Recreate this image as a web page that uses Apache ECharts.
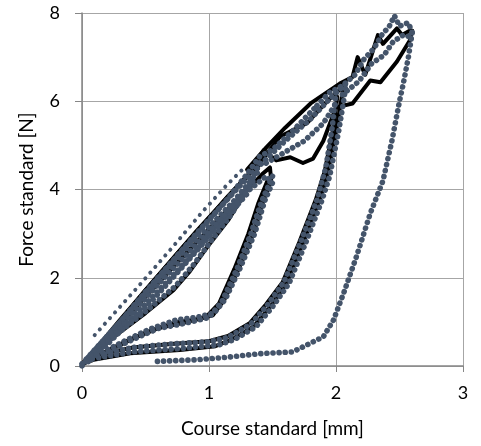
<!DOCTYPE html>
<html>
<head>
<meta charset="utf-8">
<script src="https://cdn.jsdelivr.net/npm/echarts@6/dist/echarts.min.js"></script>
<style>
html,body{margin:0;padding:0;background:#fff;}
#chart{width:481px;height:446px;}
</style>
</head>
<body>
<div id="chart"></div>
<script>
// Axis ticks
const xTicks = [0, 1, 2, 3];
const yTicks = [0, 2, 4, 6, 8];

// Black (solid line) measurement paths [course mm, force N]
const blackLoadLower = [[0,0],[0.25,0.85],[0.5,1.72],[0.75,2.55],[1.0,3.35],[1.15,3.85],[1.3,4.3],[1.43,4.88],[1.53,4.66],[1.64,4.73],[1.74,4.6],[1.82,4.7],[1.9,5.1],[2.0,5.86],[2.13,5.95],[2.27,6.47],[2.35,6.43],[2.48,6.9],[2.58,7.37],[2.6,7.6]];
const blackUnloadA = [[1.43,4.88],[1.38,4.45],[1.3,4.0],[1.15,3.3],[1.0,2.75],[0.85,2.15],[0.72,1.72],[0.5,1.2],[0.25,0.66],[0.05,0.15],[0,0.05]];
const blackLoopD = [[0,0.05],[0.3,0.95],[0.6,1.88],[0.9,2.8],[1.1,3.4],[1.3,3.98],[1.42,4.35],[1.48,4.5],[1.49,4.2],[1.43,3.76],[1.35,3.0],[1.24,2.24],[1.12,1.5],[1.03,1.15],[0.9,1.05],[0.75,1.0],[0.51,0.77],[0.32,0.52],[0.1,0.2],[0.02,0.08]];
const blackLoopD2 = [[1.46,4.2],[1.39,3.7],[1.31,3.0],[1.2,2.2],[1.08,1.42],[0.98,1.12],[0.8,0.98],[0.6,0.86],[0.4,0.62],[0.15,0.26]];
const blackLoopB = [[0.02,0.08],[0.3,1.05],[0.6,2.05],[0.9,3.05],[1.2,4.0],[1.4,4.6],[1.56,5.2],[1.77,5.5],[1.93,6.0],[2.06,6.35],[2.04,6.0],[2.0,5.3],[1.93,4.3],[1.87,3.76],[1.74,2.78],[1.61,1.87],[1.48,1.34],[1.35,0.89],[1.17,0.59],[1.05,0.45],[0.77,0.36],[0.38,0.29],[0.09,0.14],[0,0.05]];
const blackLoopB2 = [[2.01,6.1],[1.98,5.4],[1.91,4.4],[1.84,3.76],[1.71,2.8],[1.58,1.9],[1.45,1.4],[1.32,0.97],[1.15,0.68],[1.0,0.56],[0.7,0.5],[0.4,0.42],[0.12,0.24]];
const blackLoadUpper = [[1.3,4.45],[1.45,4.95],[1.6,5.4],[1.8,5.95],[2.03,6.4],[2.13,6.55],[2.17,7.0],[2.23,6.6],[2.33,7.5],[2.37,7.3],[2.48,7.65],[2.52,7.5],[2.58,7.6]];

// Dotted measurement paths [course mm, force N]
const dotsLoadA = [[0,0],[0.25,0.82],[0.5,1.68],[0.75,2.5],[1.0,3.3],[1.15,3.8],[1.3,4.35],[1.4,4.75],[1.5,4.9],[1.65,5.3],[1.85,5.9]];
const dotsUnloadA = [[1.4,4.6],[1.32,4.1],[1.18,3.45],[1.02,2.85],[0.88,2.3],[0.74,1.82],[0.52,1.28],[0.27,0.72],[0.06,0.2]];
const dotsBand = [[0.05,0.1],[0.3,0.85],[0.5,1.4],[0.75,2.15],[0.95,2.8],[1.15,3.5],[1.35,4.2]];
const dotsBand2 = [[0.05,0.2],[0.3,1.0],[0.55,1.75],[0.8,2.6],[1.0,3.15],[1.2,3.75],[1.4,4.45]];
const dotsBand3 = [[0.08,0.15],[0.3,0.78],[0.5,1.32],[0.7,1.95],[0.9,2.6],[1.1,3.25],[1.3,3.9]];
const dotsLoopD = [[0.03,0.1],[0.3,0.9],[0.6,1.85],[0.9,2.75],[1.1,3.35],[1.3,3.95],[1.45,4.3],[1.5,4.15],[1.44,3.75],[1.36,3.0],[1.25,2.25],[1.13,1.52],[1.04,1.2],[0.9,1.1],[0.75,1.05],[0.52,0.82],[0.33,0.56],[0.1,0.22]];
const dotsLoopD2 = [[1.5,4.3],[1.41,3.7],[1.33,3.0],[1.22,2.2],[1.1,1.45],[1.0,1.1],[0.8,0.96],[0.6,0.85],[0.4,0.6],[0.15,0.25]];
const dotsLoopB = [[0,0.05],[0.3,1.0],[0.6,2.0],[0.9,3.0],[1.2,3.95],[1.4,4.55],[1.6,5.1],[1.8,5.6],[1.95,6.05],[2.08,6.4],[2.06,6.0],[2.02,5.3],[1.95,4.3],[1.89,3.76],[1.76,2.78],[1.63,1.87],[1.5,1.34],[1.37,0.89],[1.2,0.6],[1.08,0.48],[0.8,0.4],[0.4,0.32],[0.1,0.17]];
const dotsLoopB2 = [[2.0,6.2],[1.97,5.4],[1.92,4.5],[1.85,3.76],[1.72,2.8],[1.59,1.9],[1.46,1.38],[1.33,0.95],[1.15,0.65],[1.0,0.55],[0.7,0.5],[0.4,0.42],[0.15,0.25]];
const dotsUpperLoop = [[1.45,4.6],[1.6,4.85],[1.75,5.1],[1.9,5.5],[2.0,5.95]];
const dotsTop = [[1.85,5.9],[1.95,6.2],[2.05,6.35],[2.15,6.6],[2.22,6.95],[2.3,7.2],[2.36,7.5],[2.42,7.7],[2.46,7.94],[2.5,7.7],[2.57,7.78],[2.6,7.55]];
const dotsTopInner = [[2.05,6.15],[2.18,6.45],[2.28,6.85],[2.38,7.05],[2.45,7.35],[2.53,7.5],[2.6,7.45]];
const dotsFinalUnload = [[2.6,7.55],[2.57,7.0],[2.53,6.4],[2.5,6.0],[2.44,5.1],[2.37,4.2],[2.27,3.46],[2.16,2.47],[2.06,1.65],[1.98,1.04],[1.9,0.66],[1.8,0.52],[1.66,0.32],[1.4,0.28],[1.15,0.2],[0.9,0.14],[0.55,0.1]];
const dotsSparse = [[0.1,0.7],[0.43,1.76],[0.7,2.65],[0.95,3.5],[1.14,4.1],[1.28,4.5]];

const blackPaths = [blackLoadLower, blackUnloadA, blackLoopD, blackLoopD2, blackLoopB, blackLoopB2, blackLoadUpper];
const densePaths = [dotsLoadA, dotsUnloadA, dotsBand, dotsBand2, dotsBand3, dotsLoopD, dotsLoopD2, dotsLoopB, dotsLoopB2, dotsUpperLoop, dotsTop, dotsTopInner, dotsFinalUnload];

const DOT = '#44546A';
const FONT = 'Lato';

const series = [];
blackPaths.forEach(p => series.push({
  type: 'line', data: p, showSymbol: false, silent: true, z: 2,
  lineStyle: { color: '#000', width: 4, cap: 'round', join: 'round' }
}));
densePaths.forEach(p => series.push({
  type: 'line', data: p, showSymbol: false, silent: true, z: 3,
  lineStyle: { color: DOT, width: 5.6, type: [0.1, 6.0], cap: 'round', join: 'round' }
}));
series.push({
  type: 'line', data: dotsSparse, showSymbol: false, silent: true, z: 3,
  lineStyle: { color: DOT, width: 4, type: [0.1, 7.5], cap: 'round' }
});

const chart = echarts.init(document.getElementById('chart'), null, { renderer: 'canvas' });
chart.setOption({
  animation: false,
  backgroundColor: '#fff',
  grid: { left: 82, right: 18, top: 13, bottom: 80, containLabel: false, outerBoundsMode: 'none' },
  xAxis: {
    type: 'value', min: xTicks[0], max: xTicks[xTicks.length - 1], interval: 1,
    name: 'Course standard [mm]', nameLocation: 'middle', nameGap: 53,
    nameTextStyle: { fontFamily: FONT, fontSize: 19, color: '#000' },
    axisLine: { show: true, lineStyle: { color: '#868686', width: 1.5 } },
    axisTick: { show: true, inside: false, length: 6, lineStyle: { color: '#868686' } },
    axisLabel: { fontFamily: FONT, fontSize: 18, color: '#000', margin: 18 },
    splitLine: { show: true, lineStyle: { color: '#A6A6A6', width: 1 } }
  },
  yAxis: {
    type: 'value', min: yTicks[0], max: yTicks[yTicks.length - 1], interval: 2,
    name: 'Force standard [N]', nameLocation: 'middle', nameGap: 46,
    nameTextStyle: { fontFamily: FONT, fontSize: 19, color: '#000' },
    axisLine: { show: true, lineStyle: { color: '#868686', width: 1.5 } },
    axisTick: { show: true, inside: false, length: 7, lineStyle: { color: '#868686' } },
    axisLabel: { fontFamily: FONT, fontSize: 18, color: '#000', margin: 22 },
    splitLine: { show: true, lineStyle: { color: '#A6A6A6', width: 1 } }
  },
  series: series
});
</script>
</body>
</html>
